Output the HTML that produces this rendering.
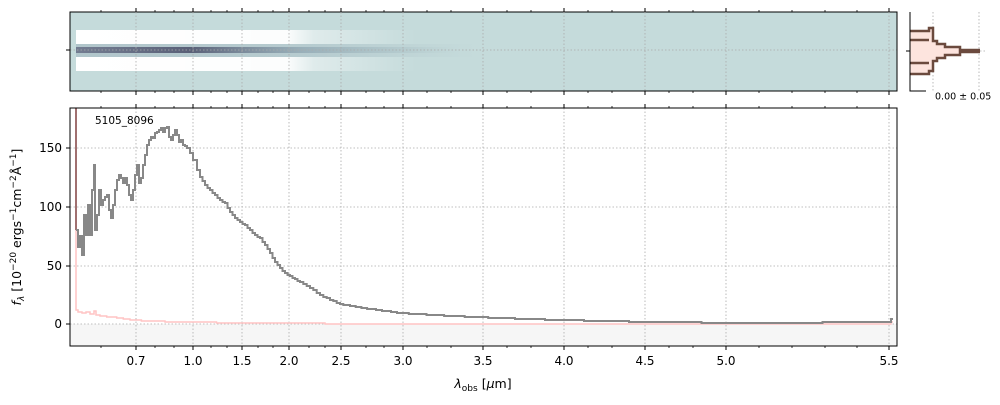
<!DOCTYPE html>
<html><head><meta charset="utf-8"><style>
body{margin:0;background:#fff;width:1000px;height:400px;overflow:hidden;font-family:"Liberation Sans","DejaVu Sans",sans-serif}
</style></head><body>
<svg width="1000" height="400" xmlns="http://www.w3.org/2000/svg" font-family="DejaVu Sans, Liberation Sans, sans-serif">
<defs>
<linearGradient id="fadeH" x1="0" x2="1" y1="0" y2="0">
<stop offset="0" stop-color="#fff" stop-opacity="1"/>
<stop offset="0.62" stop-color="#fff" stop-opacity="0.95"/>
<stop offset="0.7" stop-color="#fff" stop-opacity="0.45"/>
<stop offset="1" stop-color="#fff" stop-opacity="0"/>
</linearGradient>
<linearGradient id="fadeD" x1="0" x2="1" y1="0" y2="0">
<stop offset="0" stop-color="#4a4c6a" stop-opacity="0.6"/>
<stop offset="0.3" stop-color="#3a3c5a" stop-opacity="0.75"/>
<stop offset="0.6" stop-color="#7890a0" stop-opacity="0.45"/>
<stop offset="1" stop-color="#8aa4ac" stop-opacity="0"/>
</linearGradient>
<linearGradient id="fadeM" x1="0" x2="1" y1="0" y2="0">
<stop offset="0" stop-color="#a8bcc4" stop-opacity="0.7"/>
<stop offset="0.6" stop-color="#a8bcc4" stop-opacity="0.5"/>
<stop offset="1" stop-color="#a8bcc4" stop-opacity="0"/>
</linearGradient>
</defs>
<!-- top panel -->
<rect x="70" y="12" width="827" height="79" fill="#c5dbdb"/>
<rect x="76" y="30" width="340" height="14" fill="url(#fadeH)"/>
<rect x="76" y="57" width="340" height="14" fill="url(#fadeH)"/>
<rect x="76" y="44" width="400" height="13" fill="url(#fadeM)"/>
<rect x="76" y="47" width="380" height="6" fill="url(#fadeD)"/>
<g stroke="#aaa" stroke-dasharray="1.5,2" stroke-width="0.8">
<line x1="70" x2="897" y1="50" y2="50"/>
</g>
<rect x="70" y="12" width="827" height="79" fill="none" stroke="#000"/>
<line x1="66" x2="70" y1="50" y2="50" stroke="#000"/>
<!-- side panel -->
<g stroke="#aaa" stroke-dasharray="1.5,2" stroke-width="0.8">
<line x1="933" x2="933" y1="12" y2="91"/><line x1="979" x2="979" y1="12" y2="91"/>
<line x1="910" x2="985" y1="51" y2="51"/>
</g>
<path d="M910,31 L929,31 L929,28 L933,28 L933,41 L937,41 L937,44 L945,44 L945,47 L960,47 L960,50 L980,50 L980,52 L960,52 L960,55 L945,55 L945,58 L937,58 L937,61 L933,61 L933,71 L929,71 L929,74 L910,74 Z" fill="#fde4de" stroke="none"/>
<path d="M910,31 L929,31 L929,28 L933,28 L933,41 L937,41 L937,44 L945,44 L945,47 L960,47 L960,50 L980,50 M980,52 L960,52 L960,55 L945,55 L945,58 L937,58 L937,61 L933,61 L933,71 L929,71 L929,74 L910,74 M910,40 L929,40 M910,63 L929,63" fill="none" stroke="#6b4a3e" stroke-width="2.5"/>
<path d="M910,12 L910,91 L926,91" fill="none" stroke="#000"/>
<line x1="906" x2="910" y1="51" y2="51" stroke="#000"/>
<text x="935" y="93" font-size="9.5" dominant-baseline="hanging">0.00 ± 0.05</text>
<!-- bottom panel -->
<rect x="70" y="324" width="827" height="22" fill="#f6f6f6"/>
<g stroke="#aaa" stroke-dasharray="1.5,2" stroke-width="0.8">
<line x1="136" x2="136" y1="108" y2="346"/><line x1="193" x2="193" y1="108" y2="346"/><line x1="242" x2="242" y1="108" y2="346"/><line x1="289" x2="289" y1="108" y2="346"/><line x1="341" x2="341" y1="108" y2="346"/><line x1="403" x2="403" y1="108" y2="346"/><line x1="483" x2="483" y1="108" y2="346"/><line x1="564" x2="564" y1="108" y2="346"/><line x1="645" x2="645" y1="108" y2="346"/><line x1="726" x2="726" y1="108" y2="346"/><line x1="889" x2="889" y1="108" y2="346"/>
<line x1="70" x2="897" y1="148" y2="148"/><line x1="70" x2="897" y1="207" y2="207"/><line x1="70" x2="897" y1="266" y2="266"/><line x1="70" x2="897" y1="324" y2="324"/>
</g>
<g stroke="#aaa" stroke-dasharray="1.5,2" stroke-width="0.8">
<line x1="136" x2="136" y1="12" y2="91"/><line x1="193" x2="193" y1="12" y2="91"/><line x1="242" x2="242" y1="12" y2="91"/><line x1="289" x2="289" y1="12" y2="91"/><line x1="341" x2="341" y1="12" y2="91"/><line x1="403" x2="403" y1="12" y2="91"/><line x1="483" x2="483" y1="12" y2="91"/><line x1="564" x2="564" y1="12" y2="91"/><line x1="645" x2="645" y1="12" y2="91"/><line x1="726" x2="726" y1="12" y2="91"/><line x1="889" x2="889" y1="12" y2="91"/>
</g>
<polyline id="pink" class="step" fill="none" stroke="#ffc4c4" stroke-width="1.5" points="76,180 76,310 78,312 82,313 86,312 90,314 94,311 96,315 100,316 110,317 120,318 130,320 150,321 180,322 250,323 400,324 890,324 891,322"/>
<line x1="76" x2="76" y1="108" y2="230" stroke="#a07070" stroke-width="2"/>
<polyline id="gray" class="step" fill="none" stroke="#888" stroke-width="2" points="76,230 78,247 80,236 82,255 84,215 86,235 88,205 90,235 92,190 94,165 95,230 97,215 99,190 101,205 103,200 105,197 107,195 109,210 111,218 113,205 115,190 117,180 119,175 121,178 123,183 125,178 127,185 129,195 131,200 133,190 135,175 137,165 139,183 141,178 143,165 145,155 147,145 149,140 151,137 153,138 155,133 157,132 159,130 161,128 163,132 165,128 167,127 169,137 171,140 173,135 175,130 177,135 179,142 181,140 183,145 185,146 187,148 190,153 193,160 197,170 200,177 205,185 210,190 215,195 220,200 225,203 230,212 235,218 240,222 245,225 250,230 255,235 260,238 265,245 270,253 275,262 280,268 285,273 290,276 295,279 300,282 310,288 320,295 330,300 340,304 350,306 370,309 400,313 450,316 500,318 560,320 650,322 750,323 889,322 891,319"/>
<rect x="70" y="108" width="827" height="238" fill="none" stroke="#000"/>
<text x="95" y="124" font-size="10.5">5105_8096</text>
<!-- y ticks -->
<g stroke="#000"><line x1="66" x2="70" y1="148" y2="148"/><line x1="66" x2="70" y1="207" y2="207"/><line x1="66" x2="70" y1="266" y2="266"/><line x1="66" x2="70" y1="324" y2="324"/></g>
<g font-size="12" text-anchor="end"><text x="62" y="152">150</text><text x="62" y="211">100</text><text x="62" y="270">50</text><text x="62" y="328">0</text></g>
<!-- x ticks -->
<g stroke="#000">
<path d="M136,346v4M193,346v4M242,346v4M289,346v4M341,346v4M403,346v4M483,346v4M564,346v4M645,346v4M726,346v4M889,346v4
M136,108v-4M193,108v-4M242,108v-4M289,108v-4M341,108v-4M403,108v-4M483,108v-4M564,108v-4M645,108v-4M726,108v-4M889,108v-4
M136,12v-4M193,12v-4M242,12v-4M289,12v-4M341,12v-4M403,12v-4M483,12v-4M564,12v-4M645,12v-4M726,12v-4M889,12v-4
M136,91v4M193,91v4M242,91v4M289,91v4M341,91v4M403,91v4M483,91v4M564,91v4M645,91v4M726,91v4M889,91v4"/>
<path stroke-width="0.8" d="M101,346v2M155,346v2M174,346v2M211,346v2M227,346v2M258,346v2M273,346v2M309,346v2M325,346v2M366,346v2M384,346v2M427,346v2M451,346v2M507,346v2M531,346v2M588,346v2M612,346v2M669,346v2M693,346v2M759,346v2M792,346v2M825,346v2M857,346v2
M101,108v-2M155,108v-2M174,108v-2M211,108v-2M227,108v-2M258,108v-2M273,108v-2M309,108v-2M325,108v-2M366,108v-2M384,108v-2M427,108v-2M451,108v-2M507,108v-2M531,108v-2M588,108v-2M612,108v-2M669,108v-2M693,108v-2M759,108v-2M792,108v-2M825,108v-2M857,108v-2
M101,12v-2M155,12v-2M174,12v-2M211,12v-2M227,12v-2M258,12v-2M273,12v-2M309,12v-2M325,12v-2M366,12v-2M384,12v-2M427,12v-2M451,12v-2M507,12v-2M531,12v-2M588,12v-2M612,12v-2M669,12v-2M693,12v-2M759,12v-2M792,12v-2M825,12v-2M857,12v-2
M101,91v2M155,91v2M174,91v2M211,91v2M227,91v2M258,91v2M273,91v2M309,91v2M325,91v2M366,91v2M384,91v2M427,91v2M451,91v2M507,91v2M531,91v2M588,91v2M612,91v2M669,91v2M693,91v2M759,91v2M792,91v2M825,91v2M857,91v2"/>
</g>
<g font-size="12" text-anchor="middle">
<text x="136" y="365">0.7</text><text x="193" y="365">1.0</text><text x="242" y="365">1.5</text><text x="289" y="365">2.0</text><text x="341" y="365">2.5</text><text x="403" y="365">3.0</text><text x="483" y="365">3.5</text><text x="564" y="365">4.0</text><text x="645" y="365">4.5</text><text x="726" y="365">5.0</text><text x="889" y="365">5.5</text>
</g>
<text x="483" y="388" font-size="12.5" text-anchor="middle"><tspan font-style="italic">λ</tspan><tspan font-size="9" dy="3">obs</tspan><tspan dy="-3"> [</tspan><tspan font-style="italic">μ</tspan>m]</text>
<text transform="translate(21,227) rotate(-90)" font-size="12.5" text-anchor="middle"><tspan font-style="italic">f</tspan><tspan font-size="9" dy="3" font-style="italic">λ</tspan><tspan dy="-3"> [10</tspan><tspan font-size="9" dy="-5">−20</tspan><tspan dy="5"> ergs</tspan><tspan font-size="9" dy="-5">−1</tspan><tspan dy="5">cm</tspan><tspan font-size="9" dy="-5">−2</tspan><tspan dy="5">Å</tspan><tspan font-size="9" dy="-5">−1</tspan><tspan dy="5">]</tspan></text>
</svg>
<script>
document.querySelectorAll('polyline.step').forEach(function(pl){
  var pts=pl.getAttribute('points').trim().split(/\s+/).map(function(s){return s.split(',').map(Number);});
  var out=[];
  for(var i=0;i<pts.length;i++){
    var x=pts[i][0],y=pts[i][1];
    var dx=(i+1<pts.length)?pts[i+1][0]-x:2;
    var n=Math.max(1,Math.round(dx/3));
    var y2=(i+1<pts.length)?pts[i+1][1]:y;
    for(var k=0;k<n;k++){
      var xa=x+dx*k/n, xb=x+dx*(k+1)/n, yy=Math.round(y+(y2-y)*k/n);
      out.push(xa.toFixed(1)+','+yy, xb.toFixed(1)+','+yy);
    }
  }
  pl.setAttribute('points',out.join(' '));
});
</script>
</body></html>
